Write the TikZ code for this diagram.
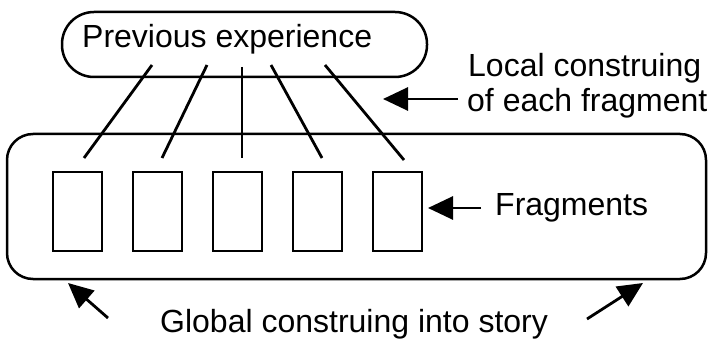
\documentclass[tikz,border=0pt]{standalone}
\usepackage{fontspec}
\setmainfont{Liberation Sans}
\usetikzlibrary{arrows.meta}
\begin{document}
\begin{tikzpicture}[x=1pt,y=-1pt,
  lbl/.style={font=\fontsize{32}{35}\selectfont, inner sep=0pt, anchor=base west},
  fragbox/.style={draw, line width=2.2pt, minimum width=49pt, minimum height=79pt, inner sep=0pt},
  conn/.style={line width=2.8pt},
  arr/.style={line width=2.8pt, -{Triangle[length=25pt,width=23pt]}},
  frame/.style={draw, line width=2.5pt, inner sep=0pt}
]
\useasboundingbox (0,0) rectangle (709,339);
% capsule
\node[frame, rounded corners=32pt, minimum width=365pt, minimum height=65pt] (prev) at (244.5,44.5) {};
\node[lbl] (prevtext) at (82,48) {Previous experience};
% big box
\node[frame, rounded corners=26pt, minimum width=699pt, minimum height=145pt] (story) at (356.5,206.5) {};
% fragments
\node[fragbox] (f1) at (77.5,211.5) {};
\node[fragbox] (f2) at (157.5,211.5) {};
\node[fragbox] (f3) at (237.5,211.5) {};
\node[fragbox] (f4) at (317.5,211.5) {};
\node[fragbox] (f5) at (397.5,211.5) {};
% connector end points
\coordinate (t1) at (152,65); \coordinate (b1) at (84,158);
\coordinate (t2) at (207,65); \coordinate (b2) at (162,158);
\coordinate (t3) at (242,67); \coordinate (b3) at (242,158);
\coordinate (t4) at (271,65); \coordinate (b4) at (322,158);
\coordinate (t5) at (325,65); \coordinate (b5) at (404,160);
\foreach \i in {1,...,5} { \draw[conn] (t\i) -- (b\i); }
% labels
\node[lbl] (local1) at (468,77) {Local construing};
\node[lbl] (local2) at (467,112) {of each fragment};
\node[lbl] (fraglbl) at (495,215) {Fragments};
\node[lbl] (global) at (160,332) {Global construing into story};
% arrows
\coordinate (la) at (383,99);
\coordinate (lt) at (458,99);
\draw[arr] (lt) -- (la);
\coordinate (fa) at (428,208);
\coordinate (ft) at (481,208);
\draw[arr] (ft) -- (fa);
\coordinate (gla) at (68,283); \coordinate (glt) at (108,318);
\coordinate (gra) at (643,283); \coordinate (grt) at (587,319);
\draw[arr] (glt) -- (gla);
\draw[arr] (grt) -- (gra);
\end{tikzpicture}
\end{document}
